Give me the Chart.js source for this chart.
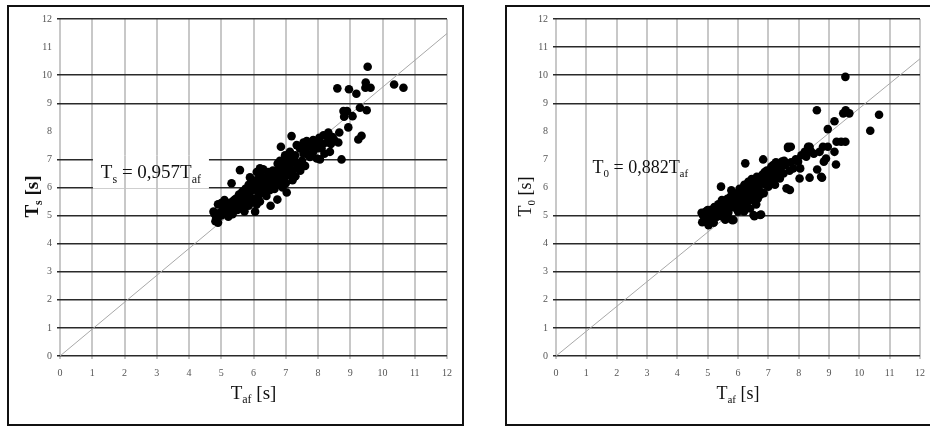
<!DOCTYPE html>
<html>
<head>
<meta charset="utf-8">
<script src="https://cdn.jsdelivr.net/npm/chart.js@4.4.1/dist/chart.umd.min.js"></script>
<style>
  body { margin: 0; background: #fff; width: 930px; height: 426px; overflow: hidden; position: relative; }
  .panel { position: absolute; top: 5px; height: 421px; border: 2px solid #111; box-sizing: border-box; background: #fff; }
  #p1 { left: 7px; width: 457px; }
  #p2 { left: 505px; width: 430px; }
  canvas { display: block; }
</style>
</head>
<body>
<div class="panel" id="p1"><canvas id="c1" width="453" height="417"></canvas></div>
<div class="panel" id="p2"><canvas id="c2" width="426" height="417"></canvas></div>
<script>
// axis ticks 0..12 on both axes
const tickValues = [0, 1, 2, 3, 4, 5, 6, 7, 8, 9, 10, 11, 12];

// left panel: Ts against Taf
const tafLeft = [
  9.54, 8.60, 8.96, 9.19, 9.48, 9.47, 9.63, 10.36, 10.65, 9.30, 9.51, 8.79, 8.90, 8.81, 9.07, 8.94, 8.66, 9.35, 9.25, 8.73,
  8.32, 8.17, 8.04, 8.37, 8.63, 8.27, 8.06, 7.85, 7.65, 7.55, 7.75, 8.37, 8.11, 7.85, 7.96, 8.06, 7.75, 7.44, 7.34, 7.29,
  7.13, 6.98, 6.85, 7.18, 8.45, 8.20, 7.60, 7.50, 7.40, 7.20, 7.10, 7.00, 6.95, 7.05, 7.20, 7.21, 7.30, 6.90, 6.80, 6.75,
  6.70, 6.60, 6.55, 6.45, 6.40, 6.35, 6.30, 6.25, 6.20, 6.15, 6.10, 6.05, 6.00, 5.95, 5.90, 5.85, 5.80, 5.75, 5.70, 5.65,
  5.60, 5.58, 5.55, 5.50, 5.45, 5.40, 5.35, 5.32, 5.30, 5.25, 5.20, 5.15, 5.10, 5.05, 5.00, 4.95, 4.90, 4.85, 4.80, 4.76,
  4.82, 4.90, 5.22, 5.00, 5.12, 5.40, 5.60, 5.68, 5.72, 5.85, 5.95, 6.05, 6.10, 6.15, 6.20, 6.25, 6.30, 6.40, 6.45, 6.50,
  6.53, 6.60, 6.65, 6.70, 6.74, 6.80, 6.85, 6.90, 6.95, 7.00, 7.03, 7.10, 7.15, 6.20, 5.89, 6.82, 6.95, 7.05, 7.25, 7.35,
  7.45, 7.55, 7.60, 7.70, 7.90, 8.00, 8.15, 8.40, 8.50, 6.35, 6.55, 6.65, 6.75, 6.90, 7.00, 7.30, 5.55, 5.65, 5.75, 5.50,
  5.35, 5.25, 6.00, 6.10, 5.90, 5.80
];
const tsLeft = [
  10.30, 9.53, 9.50, 9.34, 9.74, 9.55, 9.55, 9.67, 9.55, 8.84, 8.75, 8.72, 8.72, 8.52, 8.54, 8.14, 7.96, 7.84, 7.71, 7.00,
  7.96, 7.86, 7.77, 7.74, 7.60, 7.60, 7.60, 7.69, 7.65, 7.60, 7.45, 7.27, 7.39, 7.27, 7.03, 7.00, 7.09, 7.39, 7.51, 7.15,
  7.27, 7.15, 7.45, 7.83, 7.80, 7.20, 6.77, 6.95, 6.85, 6.95, 6.80, 6.90, 6.70, 6.55, 6.60, 6.26, 6.40, 6.50, 6.70, 6.85,
  6.50, 6.60, 6.35, 6.55, 6.30, 6.20, 6.65, 6.40, 6.10, 6.30, 6.55, 6.25, 6.00, 6.20, 5.85, 6.10, 5.75, 5.95, 5.60, 5.85,
  5.50, 6.62, 5.75, 5.40, 5.60, 5.30, 5.50, 6.15, 5.25, 5.45, 5.15, 5.40, 5.55, 5.30, 5.45, 5.10, 5.40, 4.90, 5.05, 5.14,
  4.80, 4.75, 4.96, 5.00, 5.20, 5.55, 5.25, 5.40, 5.15, 5.35, 5.55, 5.14, 5.40, 5.70, 5.50, 5.85, 6.00, 5.70, 6.05, 5.90,
  5.35, 6.20, 5.95, 6.25, 5.57, 6.10, 6.35, 6.00, 6.30, 6.15, 5.82, 6.45, 6.65, 6.68, 6.36, 6.95, 7.00, 7.10, 7.05, 6.70,
  6.60, 7.20, 7.35, 7.15, 7.50, 7.40, 7.55, 7.55, 7.70, 5.80, 6.10, 6.45, 6.15, 6.80, 6.55, 6.90, 5.30, 5.55, 5.40, 5.20,
  5.05, 5.25, 5.60, 5.90, 5.45, 5.60
];

// right panel: T0 against Taf
const tafRight = [
  9.54, 8.60, 9.47, 9.55, 9.67, 10.65, 10.36, 9.18, 8.96, 9.25, 9.40, 9.54, 9.23, 8.77, 8.61, 8.36, 8.03, 7.71, 6.24, 5.44,
  6.76, 6.54, 5.80, 5.03, 7.65, 7.74, 8.36, 8.69, 6.83, 8.83, 8.96, 9.18, 4.80, 4.82, 4.85, 4.90, 4.95, 5.00, 5.05, 5.08,
  5.10, 5.15, 5.20, 5.22, 5.25, 5.30, 5.31, 5.35, 5.40, 5.45, 5.50, 5.53, 5.55, 5.60, 5.64, 5.65, 5.70, 5.75, 5.75, 5.85,
  5.85, 5.90, 5.96, 5.96, 6.00, 6.05, 6.07, 6.10, 6.15, 6.18, 6.20, 6.21, 6.25, 6.29, 6.30, 6.34, 6.35, 6.40, 6.45, 6.50,
  6.51, 6.51, 6.55, 6.60, 6.62, 6.65, 6.70, 6.73, 6.73, 6.75, 6.80, 6.83, 6.85, 6.90, 6.95, 7.00, 7.00, 7.05, 7.10, 7.15,
  7.16, 7.20, 7.25, 7.30, 7.38, 7.40, 7.45, 7.50, 7.55, 7.60, 7.65, 7.70, 7.75, 7.82, 7.90, 7.98, 8.05, 8.09, 8.20, 8.25,
  8.31, 8.40, 8.50, 8.74, 8.80, 8.90, 5.00, 5.12, 5.18, 5.38, 5.58, 5.68, 5.78, 5.88, 6.00, 6.12, 6.38, 6.45, 6.58, 6.68,
  6.88, 6.95, 7.08, 7.22, 7.35, 6.60, 6.40, 6.20, 5.47, 5.95, 6.05, 6.35, 6.85, 7.28, 7.52
];
const t0Right = [
  9.94, 8.75, 8.64, 8.75, 8.64, 8.59, 8.02, 8.36, 8.08, 7.63, 7.63, 7.63, 6.82, 6.35, 6.64, 6.35, 6.32, 5.91, 6.86, 6.03,
  5.04, 4.98, 4.84, 4.66, 7.45, 7.45, 7.45, 7.27, 7.00, 6.92, 7.45, 7.27, 5.10, 4.76, 5.00, 4.85, 5.15, 4.75, 5.00, 5.20,
  4.85, 5.05, 4.75, 5.30, 4.95, 5.15, 4.96, 5.40, 5.05, 5.25, 4.95, 5.49, 5.15, 5.35, 5.02, 5.60, 5.25, 5.45, 5.67, 4.84,
  5.30, 5.55, 5.79, 5.40, 5.15, 5.65, 5.25, 5.85, 5.45, 5.96, 5.60, 6.10, 5.30, 5.37, 5.80, 6.20, 5.55, 6.00, 5.70, 6.15,
  5.02, 5.55, 5.85, 6.05, 6.38, 5.60, 5.90, 5.02, 5.73, 6.25, 6.45, 6.20, 5.80, 6.10, 6.60, 6.03, 6.35, 6.38, 6.75, 6.20,
  6.80, 6.50, 6.90, 6.35, 6.32, 6.65, 6.92, 6.50, 6.80, 5.97, 7.41, 6.60, 6.90, 6.68, 7.00, 6.92, 6.68, 7.15, 7.27, 7.10,
  7.45, 7.30, 7.20, 6.38, 7.45, 7.03, 5.20, 5.10, 4.90, 5.20, 4.85, 5.10, 5.90, 5.70, 5.45, 5.65, 5.80, 6.30, 6.25, 6.10,
  6.55, 6.25, 6.55, 6.10, 6.70, 5.40, 5.25, 5.15, 5.55, 5.30, 5.95, 6.05, 6.40, 6.55, 6.95
];

const slopeLeft = 0.957;
const slopeRight = 0.882;

const FONT = '"Liberation Serif", "Times New Roman", serif';

// text with subscripts: parts = [[text, isSub], ...], centred on x, vertical middle on y
function richText(ctx, parts, x, y, size, weight) {
  const fontFor = sub => `${weight} ${sub ? Math.round(size * 0.62) : size}px ${FONT}`;
  let w = 0;
  parts.forEach(([t, sub]) => { ctx.font = fontFor(sub); w += ctx.measureText(t).width; });
  let cx = x - w / 2;
  const base = y + size * 0.33;
  ctx.textAlign = 'left';
  ctx.textBaseline = 'alphabetic';
  ctx.fillStyle = '#111';
  parts.forEach(([t, sub]) => {
    ctx.font = fontFor(sub);
    ctx.fillText(t, cx, base + (sub ? size * 0.22 : 0));
    cx += ctx.measureText(t).width;
  });
}

function makeChart(id, xs, ys, slope, cfg) {
  const points = xs.map((x, i) => ({ x: x, y: ys[i] }));
  const fitLine = [{ x: 0, y: 0 }, { x: 12, y: 12 * slope }];

  const labelsPlugin = {
    id: 'labels' + id,
    beforeDatasetsDraw(chart) {
      const { ctx, chartArea, scales } = chart;
      const xs = scales.x, ys = scales.y;
      // white box behind the equation, vertical grid lines stay visible
      const cx = xs.getPixelForValue(cfg.eqAt[0]);
      const cy = ys.getPixelForValue(cfg.eqAt[1]);
      const bx = cx - cfg.eqBox[0] / 2, by = cy - cfg.eqBox[1] / 2;
      ctx.save();
      ctx.fillStyle = '#fff';
      ctx.fillRect(bx, by, cfg.eqBox[0], cfg.eqBox[1]);
      ctx.strokeStyle = '#c8c8c8';
      ctx.lineWidth = 2;
      tickValues.forEach(v => {
        const px = Math.round(xs.getPixelForValue(v));
        if (px > bx && px < bx + cfg.eqBox[0]) {
          ctx.beginPath();
          ctx.moveTo(px, by);
          ctx.lineTo(px, by + cfg.eqBox[1]);
          ctx.stroke();
        }
      });
      richText(ctx, cfg.eq, cx, cy, cfg.eqSize, 'normal');
      ctx.restore();
    },
    afterDraw(chart) {
      const { ctx, chartArea } = chart;
      ctx.save();
      richText(ctx, [['T', false], ['af', true], [' [s]', false]],
        (chartArea.left + chartArea.right) / 2, chartArea.bottom + 37, cfg.titleSize, 'normal');
      ctx.translate(chartArea.left - cfg.yTitleGap, (chartArea.top + chartArea.bottom) / 2 + 9);
      ctx.rotate(-Math.PI / 2);
      richText(ctx, cfg.yTitle, 0, 0, cfg.titleSize, cfg.yTitleWeight);
      ctx.restore();
    }
  };

  return new Chart(document.getElementById(id), {
    type: 'scatter',
    data: {
      datasets: [
        {
          type: 'line',
          data: fitLine,
          borderColor: '#a8a8a8',
          borderWidth: 1,
          pointRadius: 0,
          order: 2
        },
        {
          data: points,
          backgroundColor: '#000',
          borderWidth: 0,
          pointRadius: 4.3,
          order: 1
        }
      ]
    },
    options: {
      responsive: false,
      animation: false,
      devicePixelRatio: 1,
      layout: { padding: { left: 0, top: 12, right: cfg.rightPad, bottom: 0 } },
      plugins: { legend: { display: false }, tooltip: { enabled: false } },
      scales: {
        x: {
          type: 'linear',
          min: 0,
          max: 12,
          afterFit: s => { s.height = 68; },
          afterBuildTicks: s => { s.ticks = tickValues.map(v => ({ value: v })); },
          border: { display: false },
          grid: { color: '#c8c8c8', lineWidth: 2, tickLength: 3 },
          ticks: { padding: 8, color: '#555', font: { family: FONT, size: 10 }, maxRotation: 0 }
        },
        y: {
          type: 'linear',
          min: 0,
          max: 12,
          afterFit: s => { s.width = cfg.yWidth; },
          afterBuildTicks: s => { s.ticks = tickValues.map(v => ({ value: v })); },
          border: { display: false },
          grid: {
            color: c => cfg.hiddenLines.includes(c.tick && c.tick.value) ? 'rgba(0,0,0,0)' : '#2a2a2a',
            lineWidth: 1.5,
            tickLength: 3
          },
          ticks: { padding: 5, color: '#555', font: { family: FONT, size: 10 } }
        }
      }
    },
    plugins: [labelsPlugin]
  });
}

makeChart('c1', tafLeft, tsLeft, slopeLeft, {
  yWidth: 51,
  rightPad: 15,
  hiddenLines: [8, 11],
  eq: [['T', false], ['s', true], [' = 0,957T', false], ['af', true]],
  eqAt: [2.82, 6.55],
  eqBox: [116, 33],
  eqSize: 19,
  titleSize: 19,
  yTitle: [['T', false], ['s', true], [' [s]', false]],
  yTitleWeight: 'bold',
  yTitleGap: 28
});

makeChart('c2', tafRight, t0Right, slopeRight, {
  yWidth: 49,
  rightPad: 10,
  hiddenLines: [6, 7, 8],
  eq: [['T', false], ['0', true], [' = 0,882T', false], ['af', true]],
  eqAt: [2.78, 6.73],
  eqBox: [104, 30],
  eqSize: 18,
  titleSize: 18,
  yTitle: [['T', false], ['0', true], [' [s]', false]],
  yTitleWeight: 'normal',
  yTitleGap: 31
});
</script>
</body>
</html>
